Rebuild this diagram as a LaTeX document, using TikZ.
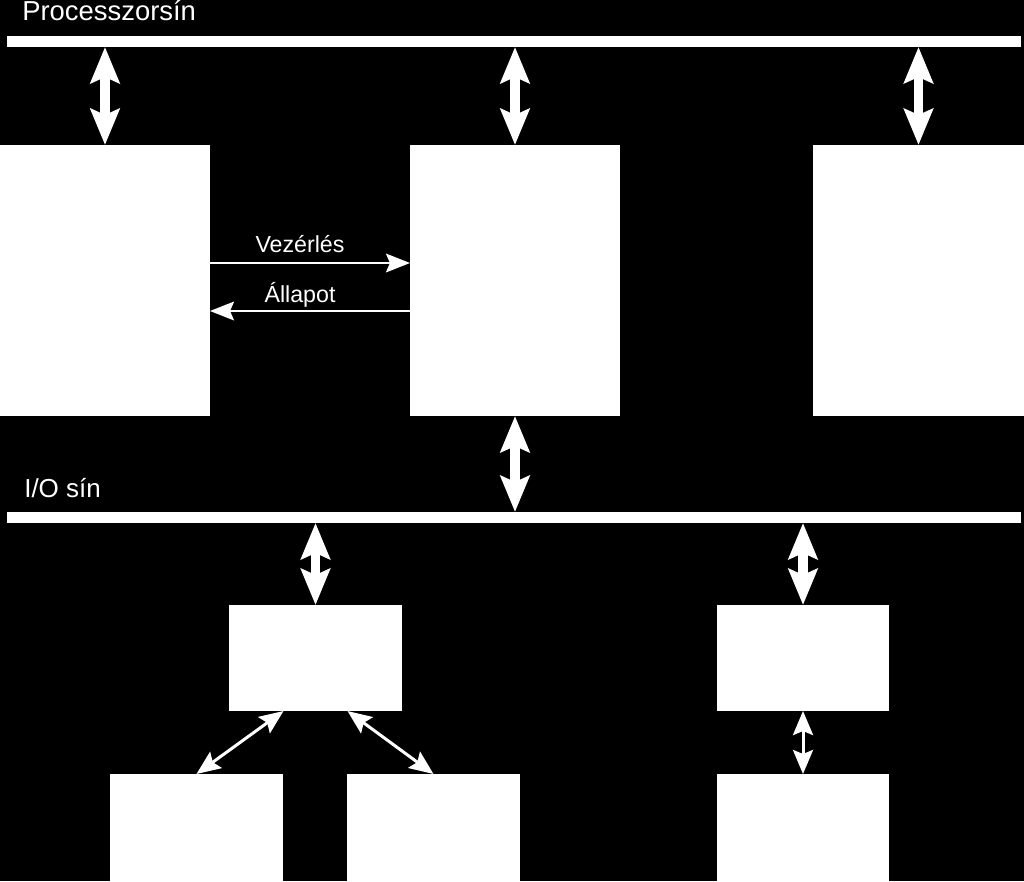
\documentclass[tikz,border=0pt]{standalone}
\usepackage{fontspec}
\setmainfont{Liberation Sans}
\usetikzlibrary{arrows.meta}

\begin{document}
\begin{tikzpicture}[x=0.025cm,y=-0.025cm,
  box/.style={fill=white,inner sep=0pt,outer sep=0pt},
  bus/.style={fill=white,inner sep=0pt,outer sep=0pt,minimum width=25.35cm,minimum height=0.275cm},
  buslabel/.style={text=white,inner sep=0pt,anchor=base west,font=\fontsize{18.5}{22}\selectfont},
  siglabel/.style={text=white,inner sep=0pt,anchor=base,font=\fontsize{16.5}{20}\selectfont},
  fat/.style={white,line width=0.235cm,{Stealth[length=0.9cm,width=0.72cm,inset=0.15cm]}-{Stealth[length=0.9cm,width=0.72cm,inset=0.15cm]}},
  sig/.style={white,line width=0.05cm,-{Stealth[length=0.6cm,width=0.47cm,inset=0.1cm]}},
  link/.style={white,line width=0.075cm,{Stealth[length=0.6cm,width=0.5cm,inset=0.1cm]}-{Stealth[length=0.6cm,width=0.5cm,inset=0.1cm]}}]
\fill[black] (0,0) rectangle (1024,881);
\useasboundingbox (0,0) rectangle (1024,881);
% buses
\node[bus] (pbus) at (514,41.5) {};
\node[bus] (iobus) at (514,517.5) {};
\node[buslabel,font=\fontsize{19.5}{23}\selectfont] (lpbus) at (22,21) {Processzorsín};
\node[buslabel] (liobus) at (24,497) {I/O sín};
% upper boxes
\node[box,minimum width=5.25cm,minimum height=6.775cm] (cpu) at (105,280.5) {};
\node[box,minimum width=5.25cm,minimum height=6.775cm] (iop) at (515,280.5) {};
\node[box,minimum width=5.25cm,minimum height=6.775cm] (mem) at (918.5,280.5) {};
% lower boxes
\node[box,minimum width=4.3cm,minimum height=2.65cm] (ctlA) at (315.5,658) {};
\node[box,minimum width=4.3cm,minimum height=2.65cm] (ctlB) at (803,658) {};
\node[box,minimum width=4.3cm,minimum height=2.675cm] (devA) at (196.5,827.5) {};
\node[box,minimum width=4.3cm,minimum height=2.675cm] (devB) at (433.5,827.5) {};
\node[box,minimum width=4.3cm,minimum height=2.675cm] (devC) at (803,827.5) {};
% bus connections
\draw[fat] (pbus.south -| cpu.north) -- (cpu.north);
\draw[fat] (pbus.south -| iop.north) -- (iop.north);
\draw[fat] (pbus.south -| mem.north) -- (mem.north);
\draw[fat] (iop.south) -- (iop.south |- iobus.north);
\draw[fat] (iobus.south -| ctlA.north) -- (ctlA.north);
\draw[fat] (iobus.south -| ctlB.north) -- (ctlB.north);
% control and status
\coordinate (vez) at (0,263);
\coordinate (all) at (0,311);
\draw[sig] (cpu.east |- vez) -- (iop.west |- vez);
\draw[sig] (iop.west |- all) -- (cpu.east |- all);
\node[siglabel] (lvez) at (300,252) {Vezérlés};
\node[siglabel] (lall) at (300,302) {Állapot};
% devices
\draw[link] ([xshift=-0.8cm]ctlA.south) -- (devA.north);
\draw[link] ([xshift=0.8cm]ctlA.south) -- (devB.north);
\draw[link] (ctlB.south) -- (devC.north);
\end{tikzpicture}
\end{document}
